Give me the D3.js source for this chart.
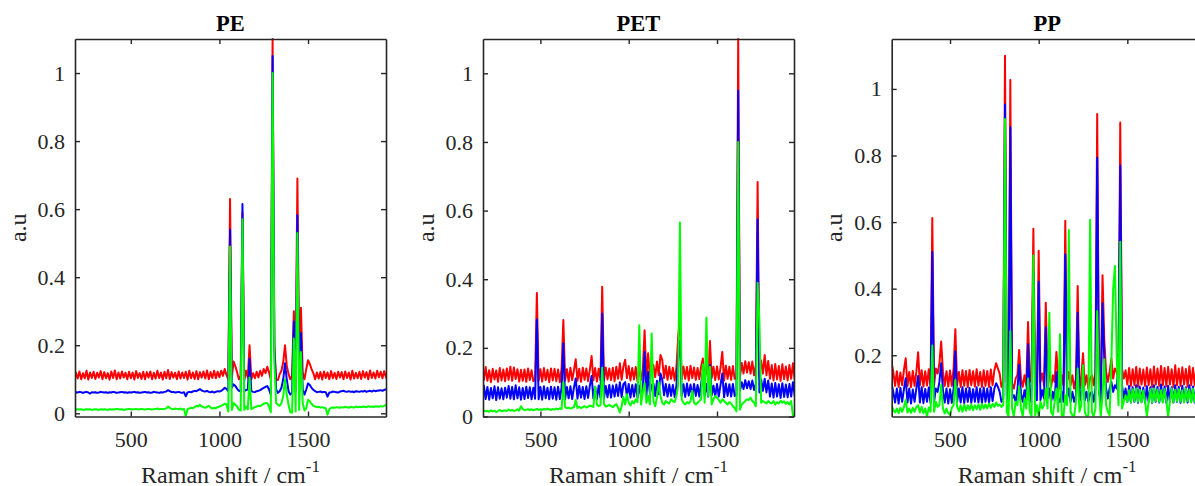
<!DOCTYPE html>
<html><head><meta charset="utf-8">
<script src="https://cdn.jsdelivr.net/npm/d3@7"></script>
<style>
body{margin:0;background:#fff;}
svg{display:block;}
text{font-family:"Liberation Serif","Times New Roman",serif;}
</style></head><body>
<svg id="c" width="1195" height="486"></svg>
<script>
// Raman shift grid (cm^-1)
const shift = [
100,110,120,130,140,150,160,170,180,190,
200,210,220,230,240,250,260,270,280,290,
300,310,320,330,340,350,360,370,380,390,
400,410,420,430,440,450,460,470,480,490,
500,510,520,530,540,550,560,570,580,590,
600,610,620,630,640,650,660,670,680,690,
700,710,720,730,740,750,760,770,780,790,
800,810,820,830,840,850,860,870,880,890,
900,910,920,930,940,950,960,970,980,990,
1000,1010,1020,1030,1040,1050,1060,1070,1080,1090,
1100,1110,1120,1130,1140,1150,1160,1170,1180,1190,
1200,1210,1220,1230,1240,1250,1260,1270,1280,1290,
1300,1310,1320,1330,1340,1350,1360,1370,1380,1390,
1400,1410,1420,1430,1440,1450,1460,1470,1480,1490,
1500,1510,1520,1530,1540,1550,1560,1570,1580,1590,
1600,1610,1620,1630,1640,1650,1660,1670,1680,1690,
1700,1710,1720,1730,1740,1750,1760,1770,1780,1790,
1800,1810,1820,1830,1840,1850,1860,1870,1880,1890,
1900,1910,1920,1930,1940,1950,1960,1970,1980,1990];

// ---- PE ----
const peRed = [
.1,.121,.104,.124,.101,.119,.099,.122,.105,.12,
.102,.123,.1,.118,.103,.125,.099,.12,.104,.122,
.101,.119,.105,.124,.1,.121,.103,.118,.099,.123,
.104,.126,.1,.12,.102,.123,.105,.119,.1,.122,
.103,.12,.099,.124,.104,.118,.101,.122,.1,.121,
.105,.123,.1,.119,.102,.125,.104,.12,.099,.122,
.103,.127,.101,.121,.105,.119,.1,.123,.102,.12,
.104,.122,.099,.125,.103,.12,.101,.124,.1,.121,
.105,.123,.102,.126,.1,.121,.104,.125,.103,.122,
.106,.125,.11,.13,.112,.1,.63,.105,.152,.138,
.12,.1,.11,.59,.098,.125,.105,.2,.1,.118,
.103,.122,.105,.125,.11,.13,.118,.137,.12,.1,
1.1,.2,.1,.098,.115,.125,.15,.2,.14,.115,
.1,.11,.3,.12,.69,.15,.31,.12,.1,.13,
.156,.145,.13,.118,.1,.12,.102,.121,.099,.123,
.104,.12,.1,.124,.103,.119,.101,.122,.105,.121,
.1,.123,.104,.12,.099,.125,.102,.119,.103,.122,
.101,.124,.105,.121,.1,.126,.104,.12,.102,.125,
.106,.122,.103,.124,.105,.12,.11,.11,.11,.11];
const peBlue = [
.062,.062,.061,.063,.062,.061,.063,.062,.06,.062,
.061,.063,.062,.06,.062,.063,.061,.058,.062,.061,
.062,.06,.061,.063,.062,.061,.062,.06,.062,.061,
.063,.062,.06,.061,.062,.063,.061,.062,.06,.062,
.061,.062,.063,.061,.062,.06,.061,.062,.063,.061,
.062,.06,.061,.063,.062,.061,.06,.062,.061,.063,
.064,.068,.065,.062,.063,.061,.062,.063,.061,.06,
.062,.05,.061,.063,.062,.064,.066,.065,.068,.071,
.067,.065,.064,.066,.063,.062,.064,.061,.063,.065,
.064,.066,.07,.075,.072,.065,.54,.075,.085,.08,
.072,.066,.065,.615,.065,.068,.07,.16,.065,.063,
.062,.065,.066,.068,.072,.075,.078,.08,.07,.055,
1.05,.19,.07,.06,.065,.075,.1,.147,.1,.065,
.055,.06,.27,.065,.582,.09,.235,.07,.055,.07,
.088,.083,.075,.069,.065,.062,.063,.064,.062,.063,
.062,.049,.061,.062,.064,.063,.062,.061,.064,.065,
.066,.064,.063,.065,.063,.064,.062,.065,.064,.063,
.065,.064,.066,.063,.065,.066,.064,.067,.065,.066,
.067,.068,.066,.069,.07,.07,.07,.07,.07,.07];
const peGreen = [
.011,.012,.011,.012,.01,.011,.012,.011,.012,.011,
.012,.011,.012,.01,.011,.012,.011,.012,.01,.011,
.012,.011,.01,.012,.011,.012,.011,.01,.012,.011,
.012,.011,.013,.012,.011,.012,.01,.011,.012,.013,
.012,.011,.012,.013,.011,.012,.013,.012,.011,.012,
.013,.012,.011,.012,.013,.014,.012,.013,.012,.013,
.014,.02,.016,.013,.012,.014,.013,.012,.014,.011,
.013,-.009,.012,.014,.016,.015,.018,.022,.02,.025,
.02,.018,.016,.019,.022,.017,.014,.016,.015,.018,
.02,.022,.025,.028,.026,.005,.49,.01,.03,.025,
.02,.01,.008,.57,.01,.02,.012,.105,.012,.015,
.018,.02,.022,.021,.025,.028,.03,.03,.02,.003,
1.0,.15,.03,.025,.022,.03,.05,.1,.055,.025,
.003,.002,.22,.005,.53,.01,.18,.03,.008,.015,
.04,.035,.028,.022,.02,.018,.019,.017,.018,.016,
.015,-.004,.012,.016,.017,.016,.018,.017,.016,.018,
.017,.019,.018,.016,.019,.018,.017,.02,.018,.019,
.018,.02,.019,.018,.021,.019,.02,.018,.021,.02,
.019,.021,.02,.022,.025,.02,.02,.02,.02,.02];

// ---- PET ----
const petRed = [
.105,.138,.108,.142,.102,.136,.11,.14,.106,.144,
.104,.135,.1,.139,.108,.134,.101,.141,.105,.137,
.103,.14,.107,.145,.104,.143,.109,.138,.102,.136,
.104,.137,.101,.14,.106,.135,.103,.112,.36,.104,
.138,.102,.141,.106,.136,.1,.14,.105,.139,.103,
.137,.1,.14,.281,.105,.138,.102,.142,.106,.135,
.167,.104,.139,.101,.142,.107,.14,.103,.137,.176,
.105,.141,.102,.139,.106,.378,.104,.143,.108,.14,
.106,.142,.103,.145,.11,.155,.107,.146,.165,.112,
.147,.105,.141,.108,.144,.102,.142,.106,.137,.251,
.11,.184,.112,.14,.15,.115,.16,.12,.179,.165,
.112,.148,.107,.145,.11,.142,.105,.14,.232,.285,
.108,.146,.11,.144,.105,.148,.112,.143,.107,.141,
.109,.145,.169,.11,.15,.108,.22,.112,.145,.106,
.146,.108,.143,.188,.105,.148,.11,.145,.107,.147,
.11,.112,1.1,.115,.156,.125,.161,.128,.158,.125,
.16,.12,.15,.683,.118,.163,.125,.179,.12,.162,
.11,.15,.105,.153,.108,.147,.104,.152,.109,.146,
.105,.15,.11,.155,.108,.13,.13,.13,.13,.13];
const petBlue = [
.085,.052,.088,.055,.084,.05,.087,.054,.09,.051,
.086,.049,.083,.053,.088,.048,.085,.052,.082,.05,
.084,.055,.089,.052,.086,.05,.091,.053,.085,.049,
.083,.051,.087,.054,.085,.05,.084,.052,.283,.05,
.086,.049,.088,.053,.084,.05,.087,.052,.085,.049,
.087,.051,.084,.213,.05,.086,.053,.088,.051,.085,
.111,.052,.089,.055,.086,.051,.088,.054,.09,.118,
.053,.087,.051,.09,.055,.3,.052,.089,.056,.092,
.055,.09,.058,.093,.06,.1,.057,.094,.1,.058,
.095,.055,.092,.058,.094,.055,.09,.058,.081,.188,
.06,.13,.065,.092,.096,.06,.104,.065,.125,.108,
.062,.095,.058,.093,.06,.092,.057,.09,.169,.22,
.06,.094,.057,.096,.061,.093,.058,.095,.06,.092,
.058,.094,.13,.06,.095,.058,.15,.062,.09,.057,
.095,.058,.093,.125,.056,.096,.06,.094,.058,.095,
.06,.062,.95,.075,.1,.08,.106,.082,.103,.08,
.105,.077,.095,.575,.07,.108,.075,.11,.07,.105,
.058,.096,.055,.098,.058,.094,.054,.097,.057,.093,
.056,.095,.058,.1,.06,.08,.08,.08,.08,.08];
const petGreen = [
.015,.016,.014,.017,.015,.013,.016,.014,.017,.015,
.016,.014,.018,.015,.017,.013,.016,.019,.015,.017,
.018,.016,.02,.017,.019,.016,.018,.021,.017,.03,
.022,.018,.02,.021,.019,.021,.018,.02,.022,.019,
.021,.019,.022,.02,.023,.021,.019,.022,.02,.023,
.021,.024,.022,.1,.028,.024,.026,.023,.025,.027,
.048,.025,.028,.024,.027,.03,.026,.029,.032,.03,
.028,.087,.035,.03,.033,.142,.036,.029,.031,.034,
.03,.027,.033,.036,.025,.012,.03,.057,.035,.065,
.04,.032,.045,.038,.05,.042,.266,.035,.07,.097,
.04,.06,.035,.242,.045,.03,.055,.1,.06,.04,
.035,.045,.04,.038,.05,.045,.042,.06,.09,.565,
.05,.04,.035,.042,.038,.045,.075,.04,.035,.04,
.045,.05,.152,.04,.288,.06,.145,.035,.05,.06,
.055,.048,.04,.05,.045,.04,.035,.042,.038,.03,
.025,.015,.8,.02,.035,.04,.045,.05,.048,.055,
.045,.04,.03,.39,.28,.04,.045,.042,.038,.045,
.04,.038,.045,.035,.042,.038,.046,.04,.044,.037,
.042,.035,.045,.003,0,0,0,0,0,0];

// ---- PP ----
const ppRed = [
.18,.18,.18,.18,.18,.18,.18,.181,.15,.108,
.152,.105,.148,.11,.155,.191,.108,.15,.104,.153,
.108,.15,.209,.11,.155,.106,.152,.109,.158,.105,
.612,.11,.16,.145,.175,.241,.15,.108,.152,.106,
.154,.108,.16,.278,.11,.15,.105,.155,.108,.153,
.104,.156,.11,.152,.106,.158,.109,.15,.105,.155,
.108,.153,.105,.157,.11,.155,.176,.16,.145,.105,
.12,1.1,.12,.105,1.027,.115,.1,.13,.14,.216,
.13,.105,.14,.11,.3,.12,.15,.58,.13,.11,
.514,.12,.145,.11,.358,.13,.15,.105,.14,.12,
.21,.13,.1,.14,.11,.604,.12,.15,.11,.14,
.1,.13,.408,.1,.13,.206,.11,.14,.1,.13,
.14,.11,.15,.925,.14,.11,.44,.246,.15,.12,
.15,.19,.13,.16,.15,.13,.899,.16,.13,.155,
.112,.162,.108,.158,.11,.165,.106,.16,.112,.157,
.108,.163,.11,.158,.105,.166,.112,.16,.108,.168,
.11,.162,.107,.165,.112,.158,.105,.17,.11,.16,
.108,.164,.112,.159,.106,.167,.11,.162,.109,.166,
.112,.16,.108,.165,.14,.14,.14,.14,.14,.14];
const ppBlue = [
.115,.115,.115,.115,.115,.115,.115,.115,.09,.058,
.1,.055,.102,.06,.098,.131,.058,.1,.055,.097,
.06,.1,.138,.058,.104,.056,.099,.06,.103,.057,
.511,.06,.1,.09,.12,.176,.095,.058,.1,.055,
.098,.057,.1,.211,.06,.1,.058,.104,.056,.1,
.06,.102,.057,.098,.06,.104,.058,.1,.056,.103,
.06,.1,.057,.104,.062,.1,.116,.105,.09,.06,
.07,.953,.08,.065,.885,.07,.08,.06,.095,.171,
.085,.06,.095,.065,.233,.06,.1,.45,.07,.065,
.421,.065,.095,.07,.284,.07,.1,.06,.09,.065,
.15,.07,.06,.09,.06,.503,.07,.1,.06,.09,
.06,.08,.328,.06,.085,.15,.065,.09,.06,.085,
.09,.06,.1,.793,.09,.06,.356,.185,.1,.07,
.1,.12,.09,.11,.1,.174,.77,.11,.07,.1,
.06,.108,.058,.104,.06,.11,.057,.106,.06,.103,
.058,.107,.06,.104,.057,.11,.06,.105,.058,.112,
.06,.106,.057,.108,.06,.104,.058,.11,.06,.105,
.057,.108,.06,.104,.058,.11,.06,.106,.058,.108,
.06,.105,.058,.107,.09,.09,.09,.09,.09,.09];
const ppGreen = [
.05,.05,.05,.05,.05,.05,.05,.05,.035,.028,
.04,.026,.042,.03,.044,.066,.028,.04,.027,.042,
.03,.044,.05,.028,.045,.026,.04,.016,.043,.03,
.229,.03,.06,.045,.05,.111,.04,.025,.04,.026,
.02,.042,.05,.126,.045,.032,.05,.03,.052,.033,
.05,.036,.052,.035,.05,.038,.052,.036,.054,.04,
.052,.04,.055,.042,.054,.045,.058,.048,.052,.045,
.05,.91,.03,.016,.273,.04,.016,.06,.05,.106,
.04,.016,.07,.04,.13,.03,.016,.5,.02,.05,
.016,.06,.04,.05,.1,.04,.328,.03,.02,.06,
.1,.03,.263,.02,.016,.08,.05,.576,.03,.02,
.016,.06,.16,.03,.05,.17,.03,.016,.02,.607,
.03,.016,.04,.333,.1,.016,.08,.188,.05,.03,
.02,.18,.4,.468,.2,.05,.541,.04,.06,.08,
.06,.095,.058,.098,.062,.1,.06,.096,.058,.094,
.062,.016,.06,.098,.058,.1,.062,.097,.06,.095,
.058,.098,.062,.016,.06,.1,.058,.096,.062,.098,
.06,.095,.058,.1,.062,.097,.058,.099,.06,.096,
.06,.097,.062,.098,.075,.075,.075,.075,.075,.075];

const titles = ["PE", "PET", "PP"];
const xTicks = [500, 1000, 1500];
const yTicksFull = [0, 0.2, 0.4, 0.6, 0.8, 1];
const yTicksPP = [0.2, 0.4, 0.6, 0.8, 1];
const xLabel = "Raman shift / cm";
const xLabelSup = "-1";
const yLabel = "a.u";

const panels = [
  {title: titles[0], series: [peRed, peBlue, peGreen], xDomain: [185, 1940], yDomain: [-0.0094, 1.1], yTicks: yTicksFull, left: 75, right: 386},
  {title: titles[1], series: [petRed, petBlue, petGreen], xDomain: [175, 1936], yDomain: [0, 1.1], yTicks: yTicksFull, left: 483, right: 794},
  {title: titles[2], series: [ppRed, ppBlue, ppGreen], xDomain: [171, 1925], yDomain: [0.016, 1.15], yTicks: yTicksPP, left: 891.7, right: 1202.7}
];
const colors = ["#ff0000", "#0000ff", "#00ff00"];
const axisColor = "#262626";
const plotTop = 39, plotBottom = 416.5;

const svg = d3.select("#c");
const fmt = d3.format(".1~f");

panels.forEach((p, i) => {
  const x = d3.scaleLinear().domain(p.xDomain).range([p.left, p.right]);
  const y = d3.scaleLinear().domain(p.yDomain).range([plotBottom, plotTop]);

  const clipId = "clip" + i;
  svg.append("clipPath").attr("id", clipId).append("rect")
    .attr("x", p.left).attr("y", plotTop - 2)
    .attr("width", p.right - p.left).attr("height", plotBottom - plotTop + 2);

  const g = svg.append("g").attr("clip-path", `url(#${clipId})`);
  const line = d3.line()
    .defined(d => d != null)
    .x((d, j) => x(shift[j]))
    .y(d => y(d));
  p.series.forEach((s, k) => {
    g.append("path").datum(s)
      .attr("d", line)
      .attr("fill", "none")
      .attr("stroke", colors[k])
      .attr("stroke-width", 2)
      .attr("stroke-linejoin", "round");
  });

  const styleAxis = (sel, showText) => {
    sel.attr("color", axisColor).attr("font-family", null).attr("font-size", null);
    sel.select(".domain").attr("stroke-width", 1.6);
    sel.selectAll(".tick line").attr("stroke-width", 1.4);
    sel.selectAll(".tick text").attr("font-size", 22).attr("fill", axisColor)
      .attr("font-family", '"Liberation Serif","Times New Roman",serif');
    if (!showText) sel.selectAll(".tick text").remove();
  };

  svg.append("g").attr("transform", `translate(0,${plotBottom})`)
    .call(d3.axisBottom(x).tickValues(xTicks).tickSize(-5).tickSizeOuter(0).tickPadding(15).tickFormat(d3.format("d")))
    .call(s => styleAxis(s, true));
  svg.append("g").attr("transform", `translate(0,${plotTop})`)
    .call(d3.axisTop(x).tickValues(xTicks).tickSize(-5).tickSizeOuter(0))
    .call(s => styleAxis(s, false));
  svg.append("g").attr("transform", `translate(${p.left},0)`)
    .call(d3.axisLeft(y).tickValues(p.yTicks).tickSize(-5).tickSizeOuter(0).tickPadding(10).tickFormat(fmt))
    .call(s => styleAxis(s, true));
  svg.append("g").attr("transform", `translate(${p.right},0)`)
    .call(d3.axisRight(y).tickValues(p.yTicks).tickSize(-5).tickSizeOuter(0))
    .call(s => styleAxis(s, false));

  const cx = (p.left + p.right) / 2;
  svg.append("text")
    .attr("x", cx).attr("y", 31)
    .attr("text-anchor", "middle")
    .attr("font-weight", "bold")
    .attr("font-size", 22.5)
    .attr("fill", "#000")
    .text(p.title);

  const xl = svg.append("text")
    .attr("x", cx).attr("y", 482.5)
    .attr("text-anchor", "middle")
    .attr("font-size", 24)
    .attr("fill", axisColor);
  xl.append("tspan").text(xLabel);
  xl.append("tspan").attr("font-size", 17).attr("dy", -10.5).text(xLabelSup);

  svg.append("text")
    .attr("transform", `translate(${p.left - 49.5},${(plotTop + plotBottom) / 2}) rotate(-90)`)
    .attr("text-anchor", "middle")
    .attr("font-size", 24)
    .attr("fill", axisColor)
    .text(yLabel);
});
</script>
</body></html>
